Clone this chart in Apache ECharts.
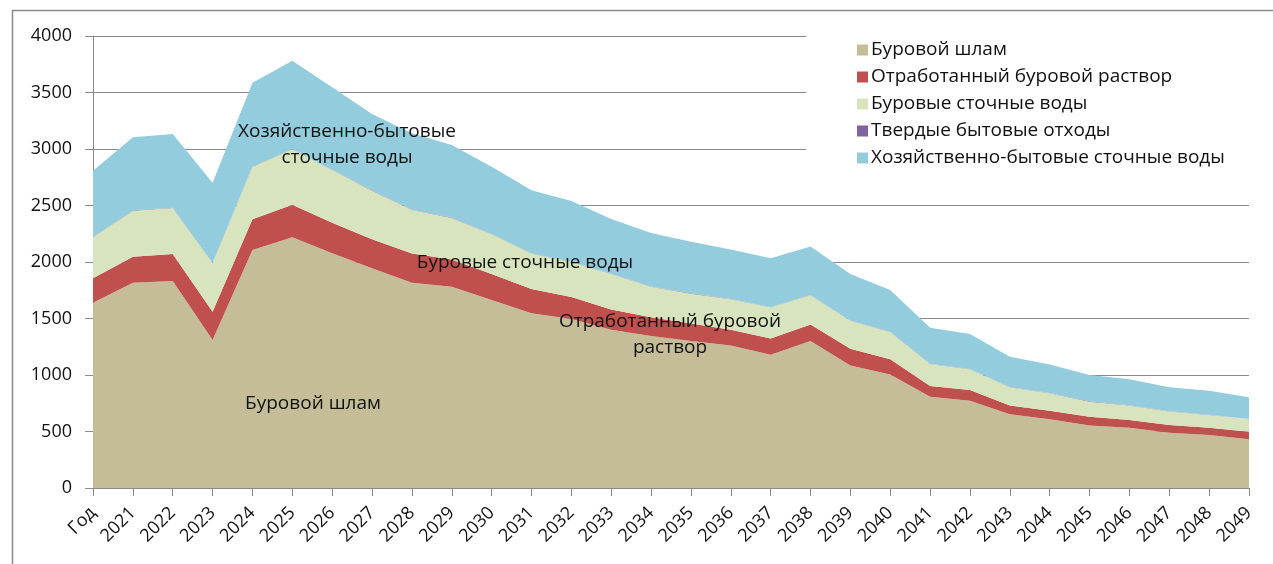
<!DOCTYPE html>
<html>
<head>
<meta charset="utf-8">
<script src="https://cdn.jsdelivr.net/npm/echarts@6/dist/echarts.min.js"></script>
<style>
  html, body { margin: 0; padding: 0; background: #fff; }
  #chart { width: 1273px; height: 564px; }
</style>
</head>
<body>
<div id="chart"></div>
<script>
const categories = ['Год', '2021', '2022', '2023', '2024', '2025', '2026', '2027', '2028', '2029',
  '2030', '2031', '2032', '2033', '2034', '2035', '2036', '2037', '2038', '2039',
  '2040', '2041', '2042', '2043', '2044', '2045', '2046', '2047', '2048', '2049'];

const burShlam = [1640, 1817, 1832, 1310, 2106, 2218, 2077, 1944, 1817, 1780,
  1664, 1546, 1495, 1400, 1345, 1300, 1260, 1180, 1300, 1085,
  1005, 808, 773, 652, 608, 552, 534, 490, 469, 431];
const otrRastvor = [216, 230, 239, 250, 272, 289, 271, 257, 258, 243,
  230, 214, 195, 180, 165, 155, 140, 144, 147, 147,
  135, 95, 94, 77, 76, 79, 68, 68, 65, 67];
const burStochn = [362, 407, 407, 428, 466, 490, 466, 430, 385, 367,
  351, 315, 310, 314, 270, 265, 270, 275, 258, 248,
  240, 194, 183, 162, 154, 133, 127, 118, 112, 110];
const tbo = [3, 3, 3, 3, 3, 3, 3, 3, 3, 3,
  3, 3, 3, 3, 3, 3, 3, 3, 3, 3,
  3, 3, 3, 3, 3, 3, 3, 3, 3, 3];
const hozStochn = [587, 646, 652, 711, 740, 782, 729, 676, 677, 642,
  596, 557, 537, 483, 474, 457, 437, 431, 430, 411,
  369, 319, 310, 268, 253, 233, 230, 212, 212, 192];

const yTicks = [0, 500, 1000, 1500, 2000, 2500, 3000, 3500, 4000];

const names = ['Буровой шлам', 'Отработанный буровой раствор', 'Буровые сточные воды',
  'Твердые бытовые отходы', 'Хозяйственно-бытовые сточные воды'];
const colors = ['#C4BD97', '#C0504D', '#D7E4BD', '#8064A2', '#93CDDD'];
const seriesData = [burShlam, otrRastvor, burStochn, tbo, hozStochn];

const font = '"Open Sans", "Noto Sans", sans-serif';
const chart = echarts.init(document.getElementById('chart'));

// подписи областей прямо на графике
function areaLabel(text, x, y) {
  return {
    type: 'text', z: 20, silent: true,
    style: {
      text: text, x: x, y: y, font: '19px ' + font, fill: '#111',
      align: 'center', verticalAlign: 'middle', lineHeight: 26
    }
  };
}

chart.setOption({
  animation: false,
  color: colors,
  textStyle: { fontFamily: font },
  grid: { left: 93, right: 24, top: 36, bottom: 76, containLabel: false },
  legend: {
    orient: 'vertical',
    left: 852,
    top: 35,
    itemWidth: 11,
    itemHeight: 11,
    itemGap: 7,
    icon: 'rect',
    z: 10,
    textStyle: { fontSize: 19, color: '#111', fontFamily: font, lineHeight: 20, padding: [0, 0, 0, -2] },
    data: names
  },
  xAxis: {
    type: 'category',
    boundaryGap: false,
    data: categories,
    axisLine: { lineStyle: { color: '#8a8a8a', width: 1 } },
    axisTick: { show: true, alignWithLabel: true, length: 8, lineStyle: { color: '#8a8a8a' } },
    axisLabel: { rotate: 45, fontSize: 18, color: '#111', margin: 22, interval: 0, fontFamily: font }
  },
  yAxis: {
    type: 'value',
    min: yTicks[0],
    max: yTicks[yTicks.length - 1],
    interval: 500,
    axisLine: { show: true, lineStyle: { color: '#8a8a8a', width: 1 } },
    axisTick: { show: true, length: 8, lineStyle: { color: '#8a8a8a' } },
    axisLabel: { fontSize: 18, color: '#111', margin: 21, fontFamily: font, formatter: v => String(v) },
    splitLine: { lineStyle: { color: '#8a8a8a', width: 1 } }
  },
  graphic: [
    {
      type: 'rect', z: 0, silent: true,
      shape: { x: 12.5, y: 10.5, width: 1300, height: 600 },
      style: { fill: null, stroke: '#8a8a8a', lineWidth: 1.5 }
    },
    {
      type: 'rect', z: 5, silent: true,
      shape: { x: 806, y: 20, width: 460, height: 172 },
      style: { fill: '#fff' }
    },
    areaLabel('Хозяйственно-бытовые\nсточные воды', 347, 145),
    areaLabel('Буровые сточные воды', 525, 263),
    areaLabel('Отработанный буровой\nраствор', 670, 335),
    areaLabel('Буровой шлам', 313, 404)
  ],
  series: seriesData.map((d, i) => ({
    name: names[i],
    type: 'line',
    stack: 'total',
    data: d,
    symbol: 'none',
    z: 3,
    lineStyle: { width: 0 },
    areaStyle: { color: colors[i], opacity: 1 }
  }))
});
</script>
</body>
</html>
